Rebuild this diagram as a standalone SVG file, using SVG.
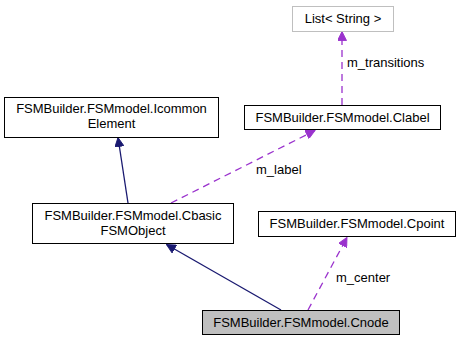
<svg xmlns="http://www.w3.org/2000/svg" width="463" height="341" viewBox="0 0 463 341">
  <defs>
    <style>
      .box { fill: #ffffff; stroke: #000000; stroke-width: 1; }
      .ext { fill: #ffffff; stroke: #bfbfbf; stroke-width: 1; }
      .cur { fill: #bfbfbf; stroke: #000000; stroke-width: 1; }
      text { font-family: "Liberation Sans", Arial, sans-serif; font-size: 13px; fill: #000000; }
      .c { text-anchor: middle; }
      .inherit { stroke: #191970; stroke-width: 1.3; fill: none; }
      .use { stroke: #9a32cd; stroke-width: 1.3; fill: none; stroke-dasharray: 7,5; }
    </style>
    <marker id="arrNavy" viewBox="0 0 10 10" refX="10" refY="5" markerWidth="10" markerHeight="9" markerUnits="userSpaceOnUse" orient="auto">
      <path d="M0,0 L10,5 L0,10 Z" fill="#191970" stroke="#191970"/>
    </marker>
    <marker id="arrPurple" viewBox="0 0 10 10" refX="10" refY="5" markerWidth="10" markerHeight="9" markerUnits="userSpaceOnUse" orient="auto">
      <path d="M0,0 L10,5 L0,10 Z" fill="#9a32cd" stroke="#9a32cd"/>
    </marker>
  </defs>

  <g id="connectors">
    <line class="inherit" x1="128" y1="203" x2="118" y2="137.5" marker-end="url(#arrNavy)"/>
    <line class="inherit" x1="281" y1="310" x2="166.5" y2="244.5" marker-end="url(#arrNavy)"/>
    <line class="use" x1="171" y1="203" x2="315" y2="130.5" marker-end="url(#arrPurple)"/>
    <line class="use" x1="342" y1="105" x2="342" y2="31.5" marker-end="url(#arrPurple)"/>
    <line class="use" x1="308" y1="310" x2="347" y2="237.5" marker-end="url(#arrPurple)"/>
    <text x="256" y="174">m_label</text>
    <text x="347" y="67">m_transitions</text>
    <text x="336" y="282">m_center</text>
  </g>

  <g id="node-list">
    <rect class="ext" x="292.5" y="6.5" width="101" height="25"/>
    <text class="c" x="343" y="23">List&lt; String &gt;</text>
  </g>

  <g id="node-icommon">
    <rect class="box" x="4.5" y="97.5" width="214" height="40"/>
    <text class="c" x="111.5" y="113">FSMBuilder.FSMmodel.Icommon</text>
    <text class="c" x="111.5" y="128">Element</text>
  </g>

  <g id="node-clabel">
    <rect class="box" x="244.5" y="105.5" width="196" height="24"/>
    <text class="c" x="342.5" y="122">FSMBuilder.FSMmodel.Clabel</text>
  </g>

  <g id="node-cbasic">
    <rect class="box" x="32.5" y="203.5" width="201" height="40"/>
    <text class="c" x="133" y="220">FSMBuilder.FSMmodel.Cbasic</text>
    <text class="c" x="133" y="235">FSMObject</text>
  </g>

  <g id="node-cpoint">
    <rect class="box" x="258.5" y="211.5" width="197" height="25"/>
    <text class="c" x="357" y="228">FSMBuilder.FSMmodel.Cpoint</text>
  </g>

  <g id="node-cnode">
    <rect class="cur" x="202.5" y="310.5" width="197" height="24"/>
    <text class="c" x="301" y="327">FSMBuilder.FSMmodel.Cnode</text>
  </g>
</svg>
